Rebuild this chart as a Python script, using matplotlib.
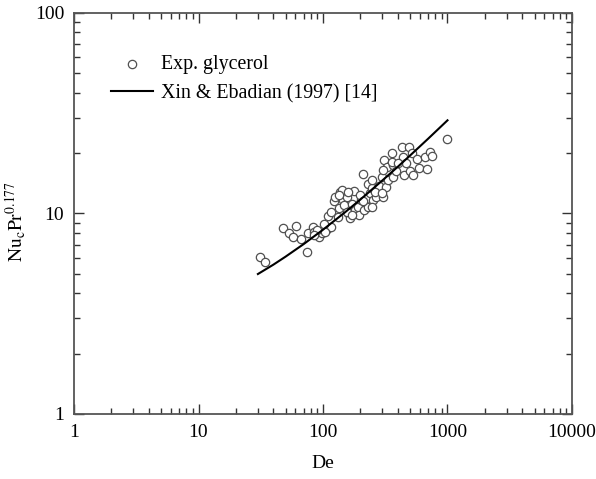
#Nusselt number vs Dean number, glycerol data against the Xin & Ebadian correlation

import matplotlib
matplotlib.use("Agg")
import matplotlib.pyplot as plt

plt.rcParams["font.family"] = ["Liberation Serif", "DejaVu Serif"]
plt.rcParams["mathtext.fontset"] = "stix"

#----------------------------------------------------------------------------------

#measured points: Dean number and Nu_c * Pr^0.177
de_exp = [31, 34, 48, 53, 57, 61, 67, 74, 76, 83, 85, 93, 98, 107, 110, 117, 116, 123,
          125, 135, 137, 146, 147, 155, 160, 165, 170, 178, 181, 192, 196, 201, 211, 213,
          221, 229, 231, 239, 246, 254, 267, 273, 283, 296, 305, 309, 319, 325, 335, 356,
          363, 367, 386, 429, 436, 447, 462, 491, 500, 516, 531, 566, 593, 660, 681, 723,
          747, 1000, 141, 160, 135, 198, 211, 155, 170, 133, 101, 89, 104, 84, 356, 403,
          305, 246, 262, 296, 246]
nu_exp = [6.1, 5.7, 8.5, 8.0, 7.6, 8.7, 7.5, 6.45, 8.0, 8.6, 8.1, 7.6, 8.0, 8.4, 9.7, 8.6,
          10.2, 11.6, 12.1, 10.7, 12.8, 11.7, 11.0, 12.1, 10.0, 9.5, 11.2, 13.0, 10.4, 10.8,
          9.8, 11.7, 15.7, 10.4, 11.8, 14.1, 10.8, 12.6, 13.4, 11.7, 12.1, 13.1, 13.7, 15.2,
          12.1, 18.5, 13.5, 17.1, 14.7, 20.0, 17.5, 15.2, 16.3, 21.5, 19.2, 15.6, 17.8, 21.5,
          16.2, 20.0, 15.6, 18.6, 16.8, 19.2, 16.7, 20.3, 19.4, 23.5, 13.1, 12.8, 12.4, 12.4,
          11.5, 10.2, 9.8, 9.6, 8.9, 8.3, 8.1, 7.8, 18.1, 17.8, 16.5, 14.7, 12.8, 12.6, 10.8]

#correlation curve
de_corr = [30, 40, 50, 70, 100, 150, 200, 300, 400, 500, 700, 1000]
nu_corr = [4.99, 5.56, 6.09, 7.04, 8.30, 10.13, 11.75, 14.62, 17.13, 19.45, 23.62, 29.15]

#----------------------------------------------------------------------------------

fig = plt.figure(figsize=(5.96, 4.79), dpi=100)
ax = fig.add_axes([0.1242, 0.1357, 0.8355, 0.8372])

ax.scatter(de_exp, nu_exp, s=36, facecolors="white", edgecolors="#505050",
           linewidths=0.9, label="Exp. glycerol", zorder=2)
ax.plot(de_corr, nu_corr, color="black", linewidth=1.5,
        label="Xin & Ebadian (1997) [14]", zorder=3)

ax.set_xscale("log")
ax.set_yscale("log")
ax.set_xlim(1, 10000)
ax.set_ylim(1, 100)
ax.set_xticks([1, 10, 100, 1000, 10000])
ax.set_xticklabels(["1", "10", "100", "1000", "10000"])
ax.set_yticks([1, 10, 100])
ax.set_yticklabels(["1", "10", "100"])

ax.tick_params(which="both", direction="in", top=True, right=True,
               colors="#333333", labelcolor="black", labelsize=14)
ax.tick_params(which="major", length=7, width=1, pad=7)
ax.tick_params(which="minor", length=4, width=1)
for s in ax.spines.values():
    s.set_color("#555555")
    s.set_linewidth(1.3)

ax.set_xlabel("De", fontsize=14, labelpad=10)
ax.set_ylabel(r"$\mathrm{Nu_cPr^{0.177}}$", fontsize=14)
ax.yaxis.set_label_coords(-0.092, 0.48)

ax.legend(loc="upper left", frameon=False, fontsize=14.3, handlelength=2.1,
          handletextpad=0.4, borderaxespad=0.6, labelspacing=0.5,
          bbox_to_anchor=(0.035, 0.945))

fig.savefig("out.png", dpi=100)
